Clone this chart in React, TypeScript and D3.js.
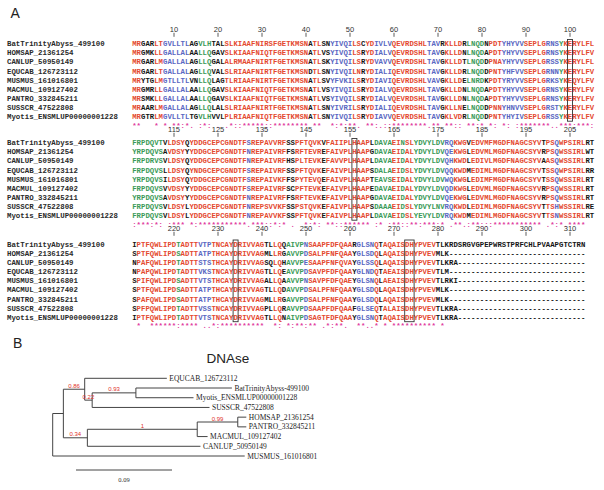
import React from "react";
import * as d3 from "d3";

// ---------- Panel A data ----------
const seqNames = [
  "BatTrinityAbyss_499100",
  "HOMSAP_21361254",
  "CANLUP_50950149",
  "EQUCAB_126723112",
  "MUSMUS_161016801",
  "MACMUL_109127402",
  "PANTRO_332845211",
  "SUSSCR_47522808",
  "Myotis_ENSMLUP00000001228",
];

const seqBlock1 = [
  "MRGARLTGVLLTLAGVLHTALSLKIAAFNIRSFGETKMSNATLSNYIVQILSCYDIVLVQEVRDSHLTAVRKLLDRLNQDNPDTYHYVVSEPLGRNSYKERYLFL",
  "MRGMKLLGALLALAALLQGAVSLKIAAFNIQTFGETKMSNATLVSYIVQILSRYDIALVQEVRDSHLTAVGKLLDNLNQDAPDTYHYVVSEPLGRNSYKERYLFV",
  "MRGARLMGALLALAGLLQGALALRMAAFNIRTFGETKMSNATLSKYIVQILSRYDVAVVQEVRDSHLTAVGKLLDTLNQDDPNAYHYVVSEPLGRSSYKERYLFL",
  "MRGARLTGALLALAGLLQVALSLRIAAFNIRTFGETKMSNDTLSNYIVQILNRYDIALIQEVRDSHLTAVGKLLDRLNQDDPNTYHFVVSEPLGRNNYKERYLFV",
  "MRYTGLMGTLLTLVNLLQLAGTLRIAAFNIRTFGETKMSNATLSVYFVKILSRYDIAVIQEVRDSHLVAVGKLLDELNRDKPDTYRYVVSEPLGRKSYKEQYLFV",
  "MRGMRLLGALLALAALLQGAVSLKIAAFNIQTFGETKMSNATLVSYIVQILSRYDIALVQEVRDSHLTAVGKLLDNLNQDAPDTYHYVVSEPLGRNSYKERYLFV",
  "MRSMKLLGALLALAALLQGAVSLKIAAFNIQTFGETKMSNATLVSYIVQILSRYDIALVQEVRDSHLTAVGKLLDNLNQDAPDTYHYVVSEPLGRNSYKERYLFV",
  "MRAARLMGALLALAGLLQLALSLRIAAFNIRTFGETKMSNATLSNYIVRILSRYDIALIQEVRDSHLTAVGKLLNELNQDDPNNYHNVVSEPLGRSTYKERYLFV",
  "MRGTRLMGVLLTLTGVLHVVLPLRIAAFNIQTFGETKMSNATLSNYIVQILSRYDIAVVQEVRDSHLTAVGKLVDRLNQDDPNTYHYIVSEPLGRSSYKERYLFV",
];

const seqBlock2 = [
  "FRPDQVTVLDSYQYDDGCEPCGNDTFSREPAVVRFSSPFTQVKVFAIIPLHAAPLDAVAEINSLYDVYLDVRQKWGVEDVMFMGDFNAGCSYVTPSQWPSIRLRT",
  "YRPDQVSAVDSYYYDDGCEPCGNDTFNREPAIVRFFSRFTEVREFAIVPLHAAPGDAVAEIDALYDVYLDVQEKWGLEDVMLMGDFNAGCSYVRPSQWSSIRLWT",
  "FRPDRVSVLDSYQYDDGCEPCGNDTFNREPAIVRFHSPLTEVKEFAVVPLHAAPLDAVAEIDALYDVYLDVQHKWDLEDIVLMGDFNAGCSYVAASQWSSIRLRT",
  "FRPDQVSLLDSYQYNDGCEPCGNDTFSREPAIVRFSSPFTQVKEFAIVPLHAAPSDALAEIDSLYDVYLDVQQKWDMEDIMLMGDFNAGCSYVTSSQWPSIRLRR",
  "YRPDQVSILDSYQYDDGCEPCGNDTFSREPAIVKFFSPYTEVQEFAIVPLHAAPTEAVSEIDALYDVYLDVWQKWGLEDIMFMGDFNAGCSYVTSSQWSSIRLRT",
  "FRPDQVSVVDSYYYDDGCEPCGNDTFSREPAIVRFSCPFTEVKEFAIVPLHAAPEDAVAEIDALYDVYLDVQDKWGLEDVMLMGDFNAGCSYVRPSQWSSIRLRT",
  "YRPDQVSAVDSYYYDDGCEPCGNDTFNREPAIVRFFSRFTEVKEFAIVPLHAAPGDAVAEIDALYDVYLDVQEKWGLEDVMLMGDFNAGCSYVRPSQWSSIRLRT",
  "FRPDQVSVLDSYLYDDGCEPCGNDTFNREPSVVKFSSPSTQVKEFAIVPLHAAPSDAAAEIDSLYDVYLNVRQKWDLEDIMLMGDFNAGCSYVTTSHWSSIRLRE",
  "FRPDQVSVLDSYLYDDGCEPCGNDTFNREPAVVKFSSPFTQVKEFAIVPLHAAPLDAVAEIDSLYEVYLDVRQKWDMEDIMLMGDFNAGCSYVTTSNWSSIRLRT",
];

const seqBlock3 = [
  "IPTFQWLIPDTADTTVTPTNCAYDRIVVAGTLLQQAIVPNSAAPFDFQAARGLSNQTAQAISDHYPVEVTLKRDSRGVGPEPWRSTPRFCHLPVAAPGTCTRN",
  "SPTFQWLIPDSADTTATPTHCAYDRIVVAGMLLRGAVVPDSALPFNFQAAYGLSDQLAQAISDHYPVEVMLK",
  "NPAFQWLIPDTADTTSTSTHCAYDRIVVAGSQLQHAVVPESAAPFNFQVAYGLSSQLAQAISDHYPVEVTLKRA",
  "NPAPQWLIPDTADTTVKSTNCAYDRIVVAGTLLQEAVVPDSAVPFDFQAAYGLNDQTAEAISDHYPVEVTLM",
  "SPIFQWLIPDSADTTVTSTHCAYDRIVVAGALLQAAVVPNSAVPFDFQAEYGLSNQLAEAISDHYPVEVTLRKI",
  "SPTFQWLIPDSADTTATPTHCAYDRIVVAGTLLQDAVVPDSALPFNFQAAYGLSDQLAQAISDHYPVEVMLK",
  "SPAFQWLIPDSADTTATPTHCAYDRIVVAGMLLRGAVVPDSALPFNFQAAYGLSDQLAQAISDHYPVEVMLK",
  "SPFPQWLIPDTADTTVSSTNCAYDRIVVAGPLLQRAVVPDSAAPFDFQAAFGLSEQTALAISDHYPVEVTLKRA",
  "IPTFQWLIPDTADTTVTSTNCAYDRIVVAGTLLQNAIVPDSAGTFDFQAAYGLSNQTAQAISDHYPVEVTLKRA",
];

const alignmentLength = 313;
const blockStartPositions = [1, 106, 211];
const tickLabels1 = [10, 20, 30, 40, 50, 60, 70, 80, 90, 100];
const tickLabels2 = [115, 125, 135, 145, 155, 165, 175, 185, 195, 205];
const tickLabels3 = [220, 230, 240, 250, 260, 270, 280, 290, 300, 310];
const boxedRanges = [[100, 100], [156, 156], [234, 234], [273, 274]];

// column colour classes (run-length), one per block
const colourRuns1 = "r2 k3 r2 b6 k2 g3 k3 r19 k1 r2 k2 b5 r2 k1 r2 b4 r8 b3 k1 r4 k1 g4 k1 r3 b5 r5 b3 g1 r1 r1 r5";
const colourRuns2 = "g7 k1 r4 k1 r13 b1 r8 k2 r6 k1 r7 r3 k1 g4 r2 g1 r2 g7 b2 r3 k1 r3 r13 k1 r2 b1 r6 k2";
const colourRuns3 = "k1 r9 g1 r4 b3 r12 k2 r2 k1 g4 b1 r10 k1 b4 r1 k1 r12 k36";

// ---------- Panel B data ----------
const treeNodeIds = [
  "root", "n1", "n2", "EQUCAB_126723112", "n3", "n4",
  "BatTrinityAbyss-499100", "Myotis_ENSMLUP00000001228", "SUSSCR_47522808",
  "n5", "n6", "n7", "HOMSAP_21361254", "PANTRO_332845211",
  "MACMUL_109127402", "CANLUP_50950149", "MUSMUS_161016801",
];
const treeParents = [
  "", "root", "n1", "n2", "n2", "n3", "n4", "n4", "n3",
  "n1", "n5", "n6", "n7", "n7", "n6", "n5", "root",
];
const branchLengths = [
  0, 0.010, 0.020, 0.077, 0.007, 0.041, 0.090, 0.054, 0.110,
  0.0225, 0.103, 0.038, 0.008, 0.008, 0.0097, 0.106, 0.180,
];
const supportValues = [
  "", "", "0.86", "", "0.22", "0.93", "", "", "",
  "0.34", "1", "0.99", "", "", "", "", "",
];
const scaleBarValue = 0.09;

// ---------- helpers ----------
const COLORS: Record<string, string> = {
  r: "#e4492f",
  g: "#3b9a58",
  b: "#5a67c2",
  k: "#141414",
};
const MAGENTA = "#e03a9c";

function expandRuns(runs: string): string[] {
  const out: string[] = [];
  runs.split(/\s+/).forEach((tok) => {
    const c = tok[0];
    const n = parseInt(tok.slice(1), 10);
    for (let i = 0; i < n; i++) out.push(c);
  });
  return out;
}

const strongGroups = ["STA", "NEQK", "NHQK", "NDEQ", "QHRK", "MILV", "MILF", "HY", "FYW"];
const weakGroups = ["CSA", "ATV", "SAG", "STNK", "STPA", "SGND", "SNDEQK", "NDEQHK", "NEQHRK", "FVLIM", "HFY"];

function conservation(col: string[]): string {
  if (col.some((c) => c === "-")) return " ";
  const set = Array.from(new Set(col));
  if (set.length === 1) return "*";
  if (strongGroups.some((g) => set.every((c) => g.includes(c)))) return ":";
  if (weakGroups.some((g) => set.every((c) => g.includes(c)))) return ".";
  return " ";
}

export default function App() {
  const blocks = [seqBlock1, seqBlock2, seqBlock3].map((b) =>
    b.map((s) => s.padEnd(b === seqBlock3 ? alignmentLength - 210 : 105, "-"))
  );
  const colourCols = [colourRuns1, colourRuns2, colourRuns3].map(expandRuns);
  const tickSets = [tickLabels1, tickLabels2, tickLabels3];
  const labelYs = [29.3, 129.3, 228.3];
  const rowY0s = [43.5, 142.5, 244];
  const rowStep = 9.15;
  const colX = d3.scaleLinear().domain([1, 105]).range([134.4, 592]);

  const monoFont = "'Liberation Mono', 'Courier New', monospace";
  const sansFont = "'Liberation Sans', Arial, sans-serif";
  const serifFont = "'Liberation Serif', 'Times New Roman', serif";

  // ---- tree ----
  const table = treeNodeIds.map((id, i) => ({
    id,
    parent: treeParents[i] || null,
    len: branchLengths[i],
    support: supportValues[i],
  }));
  const root = d3
    .stratify<any>()
    .id((d: any) => d.id)
    .parentId((d: any) => d.parent)(table);
  const depth = new Map<any, number>();
  root.eachBefore((n: any) => {
    depth.set(n, n.parent ? depth.get(n.parent)! + n.data.len : 0);
  });
  const leaves = root.leaves();
  const tx = d3.scaleLinear().domain([0, scaleBarValue]).range([52.7, 52.7 + 96]);
  const ty = d3.scaleLinear().domain([0, leaves.length - 1]).range([378.3, 456]);
  const yPos = new Map<any, number>();
  leaves.forEach((l: any, i: number) => yPos.set(l, ty(i)));
  root.eachAfter((n: any) => {
    if (n.children) {
      const ys = n.children.map((c: any) => yPos.get(c)!);
      yPos.set(n, (ys[0] + ys[ys.length - 1]) / 2);
    }
  });
  const treeNodes = root.descendants();

  return (
    <svg
      width={604}
      height={490}
      style={{ position: "absolute", left: 0, top: 0, background: "#fff" }}
    >
      <text x={10.5} y={18.3} fontSize={14} fontFamily={sansFont} fill="#222">
        A
      </text>

      {blocks.map((rows, bi) => {
        const start = blockStartPositions[bi];
        const labelY = labelYs[bi];
        const y0 = rowY0s[bi];
        const ncol = rows[0].length;
        const cons: string[] = [];
        for (let c = 0; c < ncol; c++) {
          cons.push(conservation(rows.map((r) => r[c])));
        }
        return (
          <g key={bi}>
            {tickSets[bi].map((t) => {
              const x = colX(t - start + 1);
              return (
                <g key={t}>
                  <text
                    x={x}
                    y={labelY + 2.7}
                    fontSize={7.5}
                    fontFamily={sansFont}
                    textAnchor="middle"
                    fill="#333"
                  >
                    {t}
                  </text>
                  <line x1={x} x2={x} y1={labelY + 3.5} y2={labelY + 7.5} stroke="#333" strokeWidth={0.8} />
                </g>
              );
            })}
            {rows.map((seq, ri) => {
              const y = y0 + ri * rowStep;
              return (
                <g key={ri}>
                  <text
                    x={7}
                    y={y + 2.6}
                    fontSize={7.4}
                    fontFamily={monoFont}
                    fontWeight="bold"
                    fill="#2a2a2a"
                  >
                    {seqNames[ri]}
                  </text>
                  {seq.split("").map((ch, ci) => {
                    const cls = ch === "-" ? "k" : colourCols[bi][ci] || "k";
                    return (
                      <text
                        key={ci}
                        x={colX(ci + 1)}
                        y={y + 2.6}
                        fontSize={7.3}
                        fontFamily={monoFont}
                        fontWeight="bold"
                        textAnchor="middle"
                        fill={COLORS[cls]}
                      >
                        {ch}
                      </text>
                    );
                  })}
                </g>
              );
            })}
            {cons.map((s, ci) =>
              s === " " ? null : (
                <text
                  key={ci}
                  x={colX(ci + 1)}
                  y={y0 + 9 * rowStep + 1.8}
                  fontSize={7.3}
                  fontFamily={monoFont}
                  fontWeight="bold"
                  textAnchor="middle"
                  fill={MAGENTA}
                >
                  {s}
                </text>
              )
            )}
            {boxedRanges
              .filter(([a]) => a >= start && a < start + 105)
              .map(([a, b]) => {
                const x1 = colX(a - start + 1) - 2.5;
                const x2 = colX(b - start + 1) + 2.5;
                return (
                  <rect
                    key={a}
                    x={x1}
                    y={y0 - 4}
                    width={x2 - x1}
                    height={8 * rowStep + 8.5}
                    fill="none"
                    stroke="#333"
                    strokeWidth={0.9}
                  />
                );
              })}
          </g>
        );
      })}

      {/* Panel B */}
      <text x={13} y={348} fontSize={14} fontFamily={sansFont} fill="#222">
        B
      </text>
      <text x={228} y={363} fontSize={13.5} fontFamily={sansFont} textAnchor="middle" fill="#222">
        DNAse
      </text>
      <g stroke="#444" strokeWidth={1} fill="none">
        {treeNodes.map((n: any, i: number) => {
          const x = tx(depth.get(n)!);
          const y = yPos.get(n)!;
          const els: any[] = [];
          if (n.parent) {
            els.push(<line key={"h" + i} x1={tx(depth.get(n.parent)!)} x2={x} y1={y} y2={y} />);
          }
          if (n.children) {
            const ys = n.children.map((c: any) => yPos.get(c)!);
            els.push(<line key={"v" + i} x1={x} x2={x} y1={ys[0]} y2={ys[ys.length - 1]} />);
          }
          return els;
        })}
      </g>
      {leaves.map((l: any) => (
        <text
          key={l.id}
          x={tx(depth.get(l)!) + 2.5}
          y={yPos.get(l)! + 2.5}
          fontSize={7.5}
          fontFamily={serifFont}
          fill="#222"
        >
          {l.id}
        </text>
      ))}
      {treeNodes
        .filter((n: any) => n.data.support)
        .map((n: any) => {
          const x1 = tx(depth.get(n.parent)!);
          const x2 = tx(depth.get(n)!);
          return (
            <text
              key={"s" + n.id}
              x={(x1 + x2) / 2}
              y={yPos.get(n)! - 1.5}
              fontSize={6}
              fontFamily={sansFont}
              textAnchor="middle"
              fill="#e0302a"
            >
              {n.data.support}
            </text>
          );
        })}
      <line x1={tx(0) + 23.3} x2={tx(scaleBarValue) + 23.3} y1={470} y2={470} stroke="#444" strokeWidth={1} />
      <text x={(tx(0) + tx(scaleBarValue)) / 2 + 23.3} y={482} fontSize={6.5} fontFamily={serifFont} textAnchor="middle" fill="#333">
        {scaleBarValue}
      </text>
    </svg>
  );
}
